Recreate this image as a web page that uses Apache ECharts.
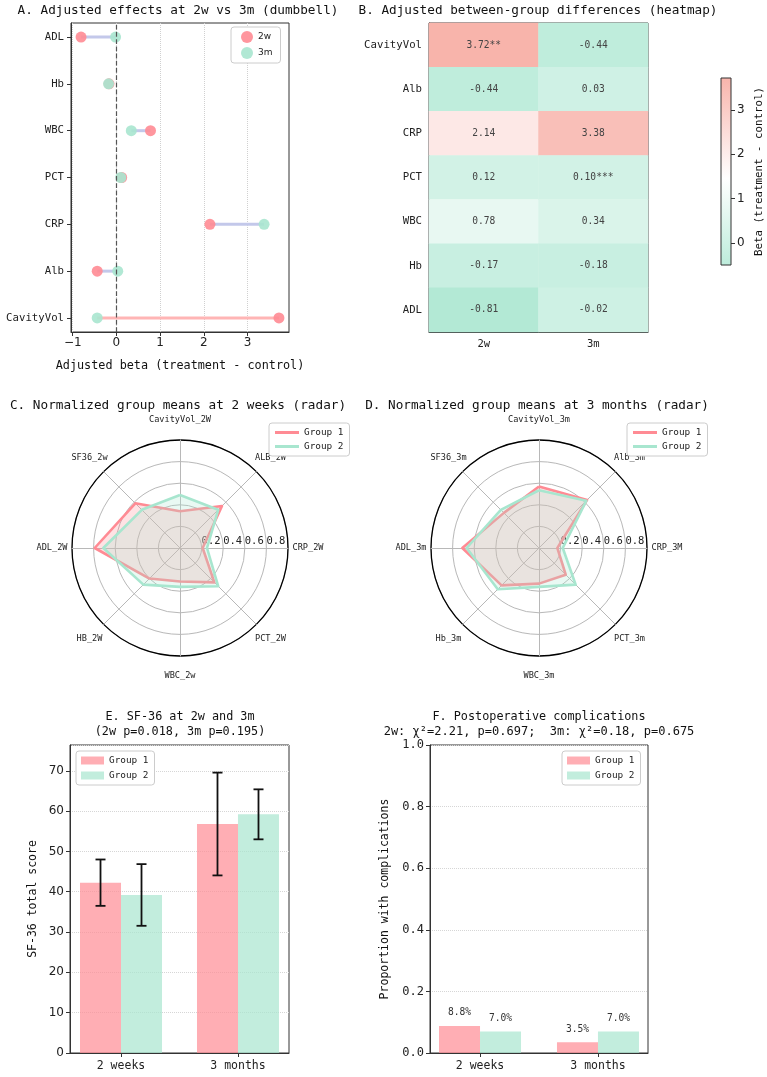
<!doctype html>
<html lang="en">
  <head>
    <meta charset="UTF-8" />
    <title>Adjusted effects and group comparisons</title>
    <style>
      html, body { margin: 0; padding: 0; background: #fff; }
      #chart { width: 767px; height: 1077px; }
    </style>
  </head>
  <body>
    <div id="chart"></div>
    <script src="https://cdn.jsdelivr.net/npm/echarts@6/dist/echarts.min.js"></script>
    <script>
      // A / B: adjusted betas (A draws rows bottom -> top, B top -> bottom)
      const rows = ["CavityVol", "Alb", "CRP", "PCT", "WBC", "Hb", "ADL"];
      const beta2w = [3.72, -0.44, 2.14, 0.12, 0.78, -0.17, -0.81];
      const beta3m = [-0.44, 0.03, 3.38, 0.1, 0.34, -0.18, -0.02];
      const stars2w = ["**", "", "", "", "", "", ""];
      const stars3m = ["", "", "", "***", "", "", ""];
      const timepoints = ["2w", "3m"];

      // C / D: normalized means, axes listed clockwise from the top
      const radarAxes2w = ["CavityVol_2W", "ALB_2W", "CRP_2W", "PCT_2W", "WBC_2w", "HB_2W", "ADL_2W", "SF36_2w"];
      const radarG1_2w = [0.34, 0.55, 0.21, 0.45, 0.31, 0.4, 0.79, 0.585];
      const radarG2_2w = [0.49, 0.5, 0.25, 0.5, 0.36, 0.48, 0.71, 0.5];
      const radarAxes3m = ["CavityVol_3m", "Alb_3m", "CRP_3M", "PCT_3m", "WBC_3m", "Hb_3m", "ADL_3m", "SF36_3m"];
      const radarG1_3m = [0.57, 0.63, 0.17, 0.35, 0.33, 0.49, 0.71, 0.46];
      const radarG2_3m = [0.535, 0.62, 0.22, 0.48, 0.36, 0.54, 0.67, 0.5];

      // E: SF-36 total score, mean and SD
      const periods = ["2 weeks", "3 months"];
      const sfMean1 = [42.25, 56.8];
      const sfSd1 = [5.75, 12.75];
      const sfMean2 = [39.2, 59.2];
      const sfSd2 = [7.65, 6.2];

      // F: proportion with complications
      const comp1 = [0.088, 0.035];
      const comp2 = [0.07, 0.07];

      const MONO = "DejaVu Sans Mono";
      const SANS = "DejaVu Sans";
      const RED = "#FF8B94";
      const GREEN = "#A8E6CF";
      const BAR_RED = "rgba(255,139,148,0.7)";
      const BAR_GREEN = "rgba(168,230,207,0.7)";
      const AXIS = "#333";

      // heatmap colour scale: green -> white -> salmon
      const heatMin = Math.min(...beta2w, ...beta3m);
      const heatMax = Math.max(...beta2w, ...beta3m);
      const cbMin = -0.5; // colour bar is drawn from here up
      const stops = [[179, 233, 213], [255, 255, 255], [248, 180, 171]];
      function heatColor(v) {
        let t = (v - heatMin) / (heatMax - heatMin);
        t = Math.max(0, Math.min(1, t)) * 2;
        const i = Math.min(1, Math.floor(t));
        const f = t - i;
        const c = stops[i].map((a, k) => Math.round(a + (stops[i + 1][k] - a) * f));
        return "rgb(" + c.join(",") + ")";
      }
      const midVal = (heatMin + heatMax) / 2;
      const cbGradient = new echarts.graphic.LinearGradient(0, 0, 0, 1, [
        { offset: 0, color: heatColor(heatMax) },
        { offset: (heatMax - midVal) / (heatMax - cbMin), color: heatColor(midVal) },
        { offset: 1, color: heatColor(cbMin) },
      ]);

      const ccw = (arr) => [arr[0], ...arr.slice(1).reverse()];
      function indicators(names) {
        return ccw(names).map((n) => {
          const ind = { name: n, min: 0, max: 1 };
          if (n.startsWith("CRP")) ind.axisLabel = { show: true };
          return ind;
        });
      }
      function radarMain(cx, names) {
        return {
          center: [cx, 548],
          radius: 108,
          startAngle: 90,
          shape: "circle",
          splitNumber: 5,
          indicator: indicators(names),
          nameGap: 20,
          axisName: { color: "#222", fontFamily: MONO, fontSize: 8.6, align: "center", verticalAlign: "middle" },
          splitArea: { show: false },
          splitLine: { lineStyle: { color: "#b8b8b8", width: 1 } },
          axisLine: { lineStyle: { color: "#b8b8b8", width: 1 } },
          axisTick: { show: false },
          axisLabel: {
            show: false,
            color: "#222",
            fontFamily: MONO,
            fontSize: 10.5,
            align: "left",
            margin: 1,
            showMinLabel: false,
            showMaxLabel: false,
            formatter: (v) => v.toFixed(1),
          },
        };
      }
      function radarRim(cx, names) {
        return {
          center: [cx, 548],
          radius: 108,
          startAngle: 90,
          shape: "circle",
          splitNumber: 1,
          indicator: names.map(() => ({ name: "", min: 0, max: 1 })),
          axisName: { show: false },
          splitArea: { show: false },
          splitLine: { lineStyle: { color: "#000", width: 1.3 } },
          axisLine: { show: false },
          axisTick: { show: false },
          axisLabel: { show: false },
          silent: true,
        };
      }
      function radarItem(name, values, color) {
        return {
          name: name,
          value: ccw(values),
          itemStyle: { color: color },
          lineStyle: { color: color, width: 2.6 },
          areaStyle: { color: color, opacity: 0.25 },
        };
      }

      function errorBars(offset) {
        return (params, api) => {
          const x = api.coord([api.value(0), 0])[0] + offset;
          const lo = api.coord([api.value(0), api.value(1)])[1];
          const hi = api.coord([api.value(0), api.value(2)])[1];
          const st = { stroke: "#111", lineWidth: 1.8 };
          return {
            type: "group",
            children: [
              { type: "line", shape: { x1: x, y1: lo, x2: x, y2: hi }, style: st },
              { type: "line", shape: { x1: x - 5, y1: lo, x2: x + 5, y2: lo }, style: st },
              { type: "line", shape: { x1: x - 5, y1: hi, x2: x + 5, y2: hi }, style: st },
            ],
          };
        };
      }

      const gridBox = { show: true, borderColor: AXIS, borderWidth: 1, backgroundColor: "transparent", outerBoundsMode: "none", containLabel: false };
      const axisLineStyle = { onZero: false, lineStyle: { color: AXIS } };
      const legendBox = {
        orient: "vertical",
        backgroundColor: "#fff",
        borderColor: "#ccc",
        borderWidth: 1,
        borderRadius: 3,
        z: 20,
        textStyle: { fontFamily: MONO, fontSize: 9.4, color: "#222" },
        formatter: (n) => n.split(":").pop(),
      };
      const titleText = (text, x, y, size) => ({
        type: "text",
        x: x,
        y: y,
        style: { text: text, fontFamily: MONO, fontSize: size, fill: "#111", align: "center", verticalAlign: "middle" },
      });

      const chart = echarts.init(document.getElementById("chart"));

      const option = {
        backgroundColor: "#fff",
        animation: false,
        graphic: [
          titleText("A. Adjusted effects at 2w vs 3m (dumbbell)", 178, 11, 12.7),
          titleText("B. Adjusted between-group differences (heatmap)", 538, 11, 12.7),
          titleText("C. Normalized group means at 2 weeks (radar)", 178, 406, 12.7),
          titleText("D. Normalized group means at 3 months (radar)", 537, 406, 12.7),
          titleText("E. SF-36 at 2w and 3m", 180, 717, 11.8),
          titleText("(2w p=0.018, 3m p=0.195)", 180, 732, 11.8),
          titleText("F. Postoperative complications", 539, 717, 11.8),
          titleText("2w: χ²=2.21, p=0.697;  3m: χ²=0.18, p=0.675", 539, 732, 12),
        ],
        grid: [
          Object.assign({ left: 71, top: 23, width: 218, height: 309 }, gridBox),
          Object.assign({ left: 429, top: 23, width: 219, height: 309 }, gridBox),
          Object.assign({ left: 70, top: 745, width: 219, height: 308 }, gridBox),
          Object.assign({ left: 430, top: 745, width: 218, height: 308 }, gridBox),
          Object.assign({}, gridBox, { left: 721, top: 78, width: 10, height: 187, backgroundColor: cbGradient, z: 5 }),
        ],
        radar: [
          radarMain(180, radarAxes2w),
          radarRim(180, radarAxes2w),
          radarMain(539, radarAxes3m),
          radarRim(539, radarAxes3m),
        ],
        legend: [
          Object.assign({}, legendBox, {
            data: ["2w", "3m"],
            left: 231,
            top: 27,
            icon: "circle",
            itemWidth: 12,
            itemHeight: 12,
            itemGap: 4,
            padding: [4, 8, 4, 10],
            textStyle: { fontFamily: SANS, fontSize: 9, color: "#222" },
          }),
          Object.assign({}, legendBox, {
            data: ["C:Group 1", "C:Group 2"],
            left: 269,
            top: 423,
            icon: "rect",
            itemWidth: 24,
            itemHeight: 3,
            itemGap: 5,
            padding: [5, 6, 5, 6],
          }),
          Object.assign({}, legendBox, {
            data: ["D:Group 1", "D:Group 2"],
            left: 627,
            top: 423,
            icon: "rect",
            itemWidth: 24,
            itemHeight: 3,
            itemGap: 5,
            padding: [5, 6, 5, 6],
          }),
          Object.assign({}, legendBox, {
            data: ["E:Group 1", "E:Group 2"],
            left: 76,
            top: 751,
            icon: "rect",
            itemWidth: 23,
            itemHeight: 8,
            itemGap: 6,
            padding: [5, 6, 5, 5],
          }),
          Object.assign({}, legendBox, {
            data: ["F:Group 1", "F:Group 2"],
            left: 562,
            top: 751,
            icon: "rect",
            itemWidth: 23,
            itemHeight: 8,
            itemGap: 6,
            padding: [5, 6, 5, 5],
          }),
        ],
        xAxis: [
          {
            gridIndex: 0,
            type: "value",
            min: -1.04,
            max: 3.95,
            name: "Adjusted beta (treatment - control)",
            nameLocation: "middle",
            nameGap: 28,
            nameTextStyle: { fontFamily: MONO, fontSize: 11.8, color: "#111" },
            axisLine: axisLineStyle,
            axisTick: { customValues: [-1, 0, 1, 2, 3], length: 4, lineStyle: { color: AXIS } },
            axisLabel: {
              customValues: [-1, 0, 1, 2, 3],
              fontFamily: SANS,
              fontSize: 12,
              color: "#222",
              margin: 5,
              formatter: (v) => (v < 0 ? "\u2212" + -v : String(v)),
            },
            splitLine: { show: true, lineStyle: { color: "#d0d0d0", type: "dotted" } },
          },
          {
            gridIndex: 1,
            type: "category",
            data: timepoints,
            axisLine: axisLineStyle,
            axisTick: { alignWithLabel: true, length: 4, lineStyle: { color: AXIS } },
            axisLabel: { fontFamily: MONO, fontSize: 10.5, color: "#222", margin: 7 },
          },
          {
            gridIndex: 2,
            type: "value",
            min: -0.436,
            max: 1.436,
            axisLine: axisLineStyle,
            axisTick: { customValues: [0, 1], length: 4, lineStyle: { color: AXIS } },
            axisLabel: { customValues: [0, 1], fontFamily: MONO, fontSize: 11.5, color: "#222", margin: 7, formatter: (v) => periods[v] },
            splitLine: { show: false },
          },
          {
            gridIndex: 3,
            type: "value",
            min: -0.424,
            max: 1.424,
            axisLine: axisLineStyle,
            axisTick: { customValues: [0, 1], length: 4, lineStyle: { color: AXIS } },
            axisLabel: { customValues: [0, 1], fontFamily: MONO, fontSize: 11.5, color: "#222", margin: 7, formatter: (v) => periods[v] },
            splitLine: { show: false },
          },
          { gridIndex: 4, type: "value", show: false, min: 0, max: 1 },
        ],
        yAxis: [
          {
            gridIndex: 0,
            type: "value",
            min: -0.3,
            max: 6.3,
            axisLine: axisLineStyle,
            axisTick: { customValues: [0, 1, 2, 3, 4, 5, 6], length: 4, lineStyle: { color: AXIS } },
            axisLabel: {
              customValues: [0, 1, 2, 3, 4, 5, 6],
              fontFamily: MONO,
              fontSize: 10.7,
              color: "#222",
              margin: 7,
              formatter: (v) => rows[v],
            },
            splitLine: { show: false },
          },
          {
            gridIndex: 1,
            type: "category",
            data: rows,
            inverse: true,
            axisLine: axisLineStyle,
            axisTick: { alignWithLabel: true, length: 4, lineStyle: { color: AXIS } },
            axisLabel: { fontFamily: MONO, fontSize: 10.7, color: "#222", margin: 7 },
          },
          {
            gridIndex: 2,
            type: "value",
            min: 0,
            max: 76.4,
            interval: 10,
            name: "SF-36 total score",
            nameLocation: "middle",
            nameGap: 31,
            nameTextStyle: { fontFamily: MONO, fontSize: 11.5, color: "#111" },
            axisLine: axisLineStyle,
            axisTick: { length: 4, lineStyle: { color: AXIS } },
            axisLabel: { fontFamily: SANS, fontSize: 12, color: "#222", margin: 6, showMaxLabel: false },
            splitLine: { show: true, lineStyle: { color: "#d6d6d6", type: "dotted" } },
          },
          {
            gridIndex: 3,
            type: "value",
            min: 0,
            max: 1,
            interval: 0.2,
            name: "Proportion with complications",
            nameLocation: "middle",
            nameGap: 39,
            nameTextStyle: { fontFamily: MONO, fontSize: 11.5, color: "#111" },
            axisLine: axisLineStyle,
            axisTick: { length: 4, lineStyle: { color: AXIS } },
            axisLabel: { fontFamily: MONO, fontSize: 12, color: "#222", margin: 6, formatter: (v) => v.toFixed(1) },
            splitLine: { show: true, lineStyle: { color: "#d6d6d6", type: "dotted" } },
          },
          {
            gridIndex: 4,
            type: "value",
            position: "right",
            min: cbMin,
            max: heatMax,
            name: "Beta (treatment - control)",
            nameLocation: "middle",
            nameGap: 23,
            nameTextStyle: { fontFamily: MONO, fontSize: 10.8, color: "#111" },
            axisLine: { show: false, onZero: false },
            axisTick: { customValues: [0, 1, 2, 3], length: 4, lineStyle: { color: AXIS } },
            axisLabel: { customValues: [0, 1, 2, 3], fontFamily: SANS, fontSize: 12, color: "#222", margin: 6 },
            splitLine: { show: false },
          },
        ],
        visualMap: {
          show: false,
          type: "continuous",
          seriesIndex: 3,
          dimension: 2,
          min: heatMin,
          max: heatMax,
          inRange: { color: stops.map((c) => "rgb(" + c.join(",") + ")") },
        },
        series: [
          {
            name: "connector",
            type: "custom",
            xAxisIndex: 0,
            yAxisIndex: 0,
            z: 1,
            encode: { x: [0, 1], y: 2 },
            data: rows.map((r, i) => [beta2w[i], beta3m[i], i, stars2w[i] || stars3m[i] ? 1 : 0]),
            renderItem: (params, api) => {
              const a = api.coord([api.value(0), api.value(2)]);
              const b = api.coord([api.value(1), api.value(2)]);
              return {
                type: "line",
                shape: { x1: a[0], y1: a[1], x2: b[0], y2: b[1] },
                style: { stroke: api.value(3) ? "#FFB5B5" : "#C3C8EA", lineWidth: 3 },
              };
            },
          },
          {
            name: "2w",
            type: "scatter",
            xAxisIndex: 0,
            yAxisIndex: 0,
            z: 2,
            symbolSize: 11,
            itemStyle: { color: RED, opacity: 0.9 },
            data: rows.map((r, i) => [beta2w[i], i]),
            markLine: {
              silent: true,
              symbol: "none",
              label: { show: false },
              lineStyle: { color: "#555", type: "dashed", width: 1.2 },
              data: [{ xAxis: 0 }],
            },
          },
          {
            name: "3m",
            type: "scatter",
            xAxisIndex: 0,
            yAxisIndex: 0,
            z: 3,
            symbolSize: 11,
            itemStyle: { color: GREEN, opacity: 0.9 },
            data: rows.map((r, i) => [beta3m[i], i]),
          },
          {
            name: "heat",
            type: "heatmap",
            xAxisIndex: 1,
            yAxisIndex: 1,
            data: rows
              .map((r, i) => [0, i, beta2w[i], stars2w[i]])
              .concat(rows.map((r, i) => [1, i, beta3m[i], stars3m[i]])),
            label: {
              show: true,
              fontFamily: MONO,
              fontSize: 9.6,
              color: "#444",
              formatter: (p) => p.data[2].toFixed(2) + p.data[3],
            },
          },
          {
            name: "radar2w",
            type: "radar",
            radarIndex: 0,
            symbol: "none",
            z: 3,
            data: [radarItem("C:Group 1", radarG1_2w, RED), radarItem("C:Group 2", radarG2_2w, GREEN)],
          },
          {
            name: "radar3m",
            type: "radar",
            radarIndex: 2,
            symbol: "none",
            z: 3,
            data: [radarItem("D:Group 1", radarG1_3m, RED), radarItem("D:Group 2", radarG2_3m, GREEN)],
          },
          {
            name: "E:Group 1",
            type: "bar",
            xAxisIndex: 2,
            yAxisIndex: 2,
            barWidth: 41,
            barGap: "0%",
            itemStyle: { color: BAR_RED },
            data: sfMean1.map((m, i) => [i, m]),
          },
          {
            name: "E:Group 2",
            type: "bar",
            xAxisIndex: 2,
            yAxisIndex: 2,
            barWidth: 41,
            barGap: "0%",
            itemStyle: { color: BAR_GREEN },
            data: sfMean2.map((m, i) => [i, m]),
          },
          {
            name: "sd1",
            type: "custom",
            xAxisIndex: 2,
            yAxisIndex: 2,
            z: 5,
            encode: { x: 0, y: [1, 2] },
            data: sfMean1.map((m, i) => [i, m - sfSd1[i], m + sfSd1[i]]),
            renderItem: errorBars(-20.5),
          },
          {
            name: "sd2",
            type: "custom",
            xAxisIndex: 2,
            yAxisIndex: 2,
            z: 5,
            encode: { x: 0, y: [1, 2] },
            data: sfMean2.map((m, i) => [i, m - sfSd2[i], m + sfSd2[i]]),
            renderItem: errorBars(20.5),
          },
          {
            name: "F:Group 1",
            type: "bar",
            xAxisIndex: 3,
            yAxisIndex: 3,
            barWidth: 41,
            barGap: "0%",
            itemStyle: { color: BAR_RED },
            label: {
              show: true,
              position: "top",
              distance: 8,
              fontFamily: MONO,
              fontSize: 9.6,
              color: "#333",
              formatter: (p) => (p.value[1] * 100).toFixed(1) + "%",
            },
            data: comp1.map((v, i) => [i, v]),
          },
          {
            name: "F:Group 2",
            type: "bar",
            xAxisIndex: 3,
            yAxisIndex: 3,
            barWidth: 41,
            barGap: "0%",
            itemStyle: { color: BAR_GREEN },
            label: {
              show: true,
              position: "top",
              distance: 8,
              fontFamily: MONO,
              fontSize: 9.6,
              color: "#333",
              formatter: (p) => (p.value[1] * 100).toFixed(1) + "%",
            },
            data: comp2.map((v, i) => [i, v]),
          },
        ],
      };

      chart.setOption(option);
    </script>
  </body>
</html>
